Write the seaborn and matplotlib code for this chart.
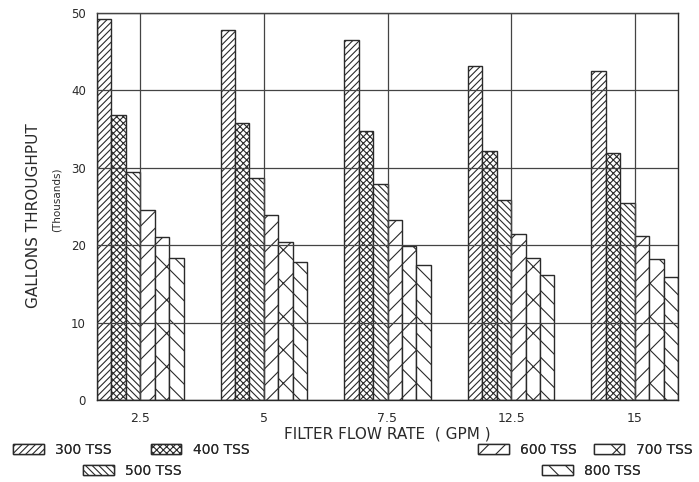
import matplotlib
matplotlib.use('Agg')
import matplotlib.pyplot as plt
from matplotlib.patches import Patch
import seaborn as sns
import pandas as pd

# Данные (тыс. галлонов)
flow_rates = ['2.5', '5', '7.5', '12.5', '15']
tss_levels = ['300 TSS', '400 TSS', '500 TSS', '600 TSS', '700 TSS', '800 TSS']
tss_300 = [49.2, 47.8, 46.5, 43.2, 42.5]
tss_400 = [36.8, 35.8, 34.8, 32.2, 31.9]
tss_500 = [29.5, 28.7, 27.9, 25.8, 25.5]
tss_600 = [24.5, 23.9, 23.3, 21.4, 21.2]
tss_700 = [21.0, 20.4, 19.9, 18.4, 18.2]
tss_800 = [18.4, 17.8, 17.4, 16.1, 15.9]
y_ticks = [0, 10, 20, 30, 40, 50]

hatches = ['/////', 'xxxxx', '\\\\\\\\\\', '//', 'x', '\\\\']

series = [tss_300, tss_400, tss_500, tss_600, tss_700, tss_800]
rows = []
for name, vals in zip(tss_levels, series):
    for rate, v in zip(flow_rates, vals):
        rows.append({'rate': rate, 'tss': name, 'value': v})
df = pd.DataFrame(rows)

sns.set_style('white')
plt.rcParams['font.family'] = ['DejaVu Sans']
plt.rcParams['hatch.color'] = '#222222'
plt.rcParams['hatch.linewidth'] = 0.8

ink = '#2a2a2a'

fig = plt.figure(figsize=(6.99, 4.82), dpi=100)
ax = fig.add_axes([97 / 699, 1 - 400 / 482, 581 / 699, 387 / 482])

sns.barplot(data=df, x='rate', y='value', hue='tss', order=flow_rates,
            hue_order=tss_levels, palette=['white'] * 6, edgecolor=ink,
            linewidth=1.0, width=0.7, legend=False, errorbar=None, ax=ax,
            saturation=1)

for cont, h in zip(ax.containers, hatches):
    for bar in cont:
        bar.set_hatch(h)

ax.set_xlim(-0.35, len(flow_rates) - 1 + 0.35)
ax.set_ylim(0, 50)
ax.set_yticks(y_ticks)
ax.set_axisbelow(False)
ax.grid(True, color='#444444', linewidth=0.9)
for sp in ax.spines.values():
    sp.set_visible(True)
    sp.set_color(ink)
    sp.set_linewidth(1.0)

ax.tick_params(axis='y', direction='out', length=5, width=0.8, colors=ink,
               labelsize=8.5, pad=3)
ax.tick_params(axis='x', direction='inout', length=7, width=0.8, colors=ink,
               labelsize=9, pad=5)
ax.set_xlabel('FILTER FLOW RATE  ( GPM )', fontsize=11, color=ink, labelpad=1)
ax.set_ylabel('')

fig.text(34 / 699, 1 - 216 / 482, 'GALLONS THROUGHPUT', rotation=90,
         ha='center', va='center', fontsize=11, color=ink)
fig.text(57 / 699, 1 - 200 / 482, '(Thousands)', rotation=90,
         ha='center', va='center', fontsize=7.5, color=ink)

# Легенды: четыре блока, как на оригинале
handles = [Patch(facecolor='white', edgecolor=ink, hatch=h, linewidth=1.0)
           for h in hatches]
leg_kw = dict(frameon=False, fontsize=10, handlelength=2.2,
              handleheight=0.7, handletextpad=0.85,
              borderpad=0, borderaxespad=0, labelcolor=ink)
blocks = [([0, 1], 13, 450, 2.8), ([2], 83, 471, 2.0),
          ([3, 4], 478, 450, 1.2), ([5], 542, 471, 2.0)]
for idx, px, py, cs in blocks:
    leg = fig.legend([handles[i] for i in idx], [tss_levels[i] for i in idx],
                     loc='center left', ncol=len(idx), columnspacing=cs,
                     bbox_to_anchor=(px / 699, 1 - py / 482), **leg_kw)
    fig.add_artist(leg)

fig.savefig('out.png', dpi=100)
plt.close(fig)
